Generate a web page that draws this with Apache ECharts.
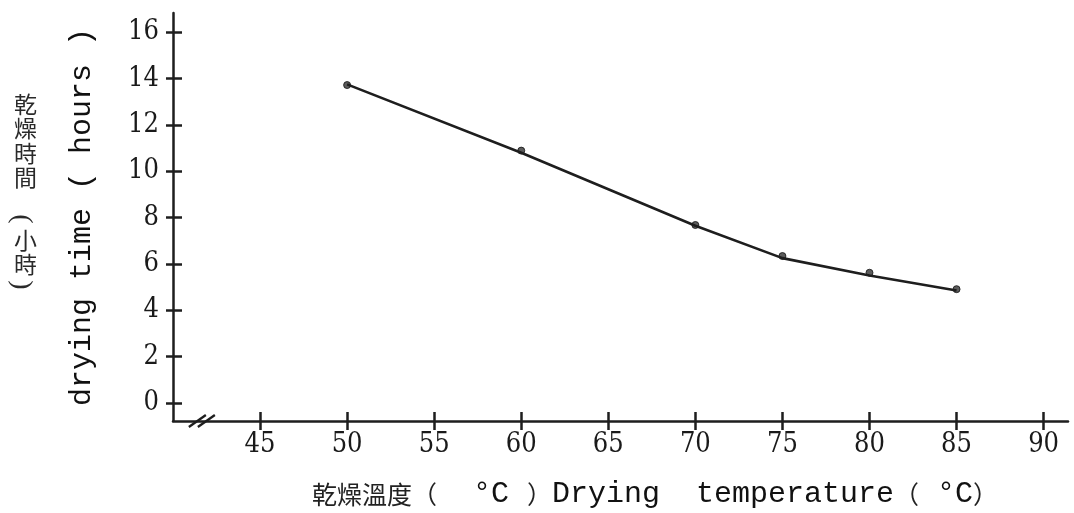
<!DOCTYPE html>
<html>
<head>
<meta charset="utf-8">
<script src="https://cdn.jsdelivr.net/npm/echarts@6/dist/echarts.min.js"></script>
<style>
html,body{margin:0;padding:0;background:#fff;}
#chart{width:1074px;height:513px;}
</style>
</head>
<body>
<div id="chart"></div>
<script>
// Data
const temperatures = [50, 60, 70, 75, 80, 85];            // °C
const curveHours   = [13.75, 10.8, 7.65, 6.25, 5.5, 4.85]; // drawn curve
const pointHours   = [13.72, 10.89, 7.68, 6.34, 5.62, 4.91]; // measured dots
const xTickValues  = [45, 50, 55, 60, 65, 70, 75, 80, 85, 90];
const yTickValues  = [0, 2, 4, 6, 8, 10, 12, 14, 16];

const ink = '#1e1e1e';
const numFont = 'DejaVu Serif Condensed';

const chart = echarts.init(document.getElementById('chart'));

const cnVert = { fontFamily: 'Noto Sans CJK TC', fontSize: 23, lineHeight: 24.5, fontWeight: 'normal', color: '#2a2a2a' };

const option = {
  backgroundColor: '#fff',
  animation: false,
  title: [
    { left: 9, top: 87, text: '乾\n燥\n時\n間', textStyle: cnVert },
    { left: 9, top: 223, text: '小\n時', textStyle: cnVert },
    {
      left: 307, top: 472,
      text: '{cn|乾燥溫度（}{la|  °C }{cn|）}{la|Drying  temperature}{cn|（}{la| °C}{cn|）}',
      textStyle: {
        fontWeight: 'normal',
        rich: {
          cn: { fontFamily: 'Noto Sans CJK TC', fontSize: 25, fontWeight: 'normal', color: '#222', lineHeight: 34 },
          la: { fontFamily: 'Liberation Mono', fontSize: 30, fontWeight: 'normal', color: '#111', lineHeight: 34 }
        }
      }
    }
  ],
  grid: { left: 173, right: 6, top: 13, bottom: 92, containLabel: false },
  xAxis: [
    {
      type: 'value', min: 40, max: 91.4, position: 'bottom',
      splitLine: { show: false },
      axisLine: { onZero: false, lineStyle: { color: ink, width: 2.5 } },
      axisTick: { show: true, length: 9, lineStyle: { color: ink, width: 2.5 }, customValues: xTickValues },
      axisLabel: { customValues: xTickValues, margin: 10, fontFamily: numFont, fontSize: 27, color: '#1a1a1a' }
    },
    {
      type: 'value', min: 40, max: 91.4, position: 'bottom', offset: 0,
      splitLine: { show: false },
      axisLine: { show: false, onZero: false },
      axisTick: { show: true, inside: true, length: 9, lineStyle: { color: ink, width: 2.5 }, customValues: xTickValues },
      axisLabel: { show: false }
    }
  ],
  yAxis: [
    {
      type: 'value', min: -0.78, max: 16.83, position: 'left',
      name: 'drying time ( hours )', nameLocation: 'middle', nameGap: 76,
      nameTextStyle: { fontFamily: 'Liberation Mono', fontSize: 30, fontWeight: 'normal', color: '#111' },
      splitLine: { show: false },
      axisLine: { show: true, onZero: false, lineStyle: { color: ink, width: 2.5 } },
      axisTick: { show: true, length: 7, lineStyle: { color: ink, width: 2.5 }, customValues: yTickValues },
      axisLabel: { customValues: yTickValues, margin: 14, fontFamily: numFont, fontSize: 27, color: '#1a1a1a' }
    },
    {
      type: 'value', min: -0.78, max: 16.83, position: 'left', offset: 0,
      splitLine: { show: false },
      axisLine: { show: false, onZero: false },
      axisTick: { show: true, inside: true, length: 9, lineStyle: { color: ink, width: 2.5 }, customValues: yTickValues },
      axisLabel: { show: false }
    }
  ],
  series: [
    {
      type: 'line', name: 'curve', xAxisIndex: 0, yAxisIndex: 0,
      data: temperatures.map((t, i) => [t, curveHours[i]]),
      showSymbol: false, symbol: 'none',
      lineStyle: { color: ink, width: 2.6 }
    },
    {
      type: 'scatter', name: 'points', xAxisIndex: 0, yAxisIndex: 0,
      data: temperatures.map((t, i) => [t, pointHours[i]]),
      symbol: 'circle', symbolSize: 7,
      itemStyle: { color: '#333', borderColor: '#111', borderWidth: 1 }
    }
  ]
};
chart.setOption(option);

// axis break marks "//" near the origin
const c = chart.convertToPixel({ xAxisIndex: 0, yAxisIndex: 0 }, [41.6, -0.78]);
const cx = c[0], cy = c[1];
chart.setOption({
  graphic: [
    { type: 'line', shape: { x1: cx - 12, y1: cy + 6, x2: cx + 5, y2: cy - 6 }, style: { stroke: ink, lineWidth: 2.3 } },
    { type: 'line', shape: { x1: cx - 3, y1: cy + 6, x2: cx + 14, y2: cy - 6 }, style: { stroke: ink, lineWidth: 2.3 } },
    // vertical-form parentheses of （小時）
    { type: 'text', x: 21, y: 219, rotation: -Math.PI / 2,
      style: { text: '(', font: '28px "Liberation Serif"', fill: '#2a2a2a', align: 'center', verticalAlign: 'middle' } },
    { type: 'text', x: 21, y: 285, rotation: -Math.PI / 2,
      style: { text: ')', font: '28px "Liberation Serif"', fill: '#2a2a2a', align: 'center', verticalAlign: 'middle' } }
  ]
});
</script>
</body>
</html>
